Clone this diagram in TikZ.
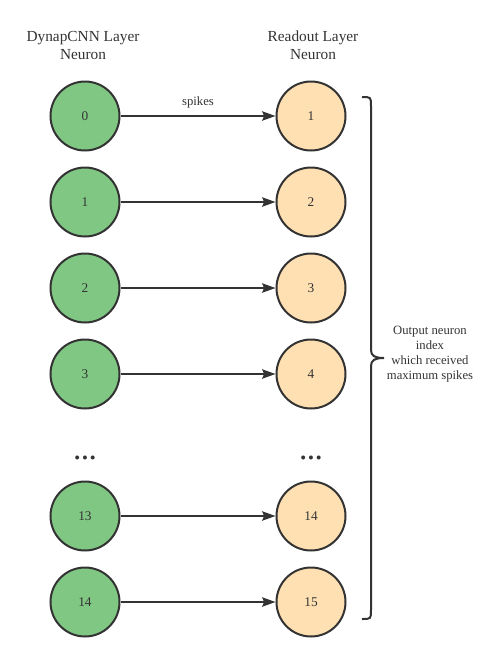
\documentclass[tikz,border=0pt]{standalone}
\usepackage{fontspec}
\setmainfont{Liberation Serif}
\usepackage{xcolor}
\usepackage{tikz}
\usetikzlibrary{arrows,arrows.meta}

\definecolor{cnngreen}{RGB}{129,199,132}
\definecolor{readorange}{RGB}{255,224,178}
\definecolor{darkline}{RGB}{51,51,51}

\tikzset{
    cnn/.style={circle, draw=darkline, line width=1.5pt, fill=cnngreen,
        minimum size=51.75pt, inner sep=0pt, font=\fontsize{10}{12}\selectfont, text=darkline},
    readout/.style={circle, draw=darkline, line width=1.5pt, fill=readorange,
        minimum size=51.75pt, inner sep=0pt, font=\fontsize{10}{12}\selectfont, text=darkline},
    spike/.style={-{Stealth[length=10pt, width=7pt, inset=1.5pt]}, line width=1.5pt, draw=darkline},
    heading/.style={align=center, font=\fontsize{11.5}{13.5}\selectfont, text=darkline},
    skipdots/.style={text=darkline, font=\fontsize{12.5}{12.5}\selectfont},
}

\begin{document}
\begin{tikzpicture}[x=0.75pt, y=-0.75pt]
        \useasboundingbox (0,0) rectangle (503,662);

        % Column headings
        \node[heading] (cnnhead) at (83,45) {DynapCNN Layer\\Neuron};
        \node[heading] (readhead) at (313,45) {Readout Layer\\Neuron};

        % DynapCNN layer neurons
        \node[cnn] (c0) at (85,116) {0};
        \node[cnn] (c1) at (85,202) {1};
        \node[cnn] (c2) at (85,288) {2};
        \node[cnn] (c3) at (85,374) {3};
        \node[cnn] (c13) at (85,516) {13};
        \node[cnn] (c14) at (85,602) {14};

        % Readout layer neurons
        \node[readout] (r1) at (311,116) {1};
        \node[readout] (r2) at (311,202) {2};
        \node[readout] (r3) at (311,288) {3};
        \node[readout] (r4) at (311,374) {4};
        \node[readout] (r14) at (311,516) {14};
        \node[readout] (r15) at (311,602) {15};

        % dots for the skipped neurons
        \node[skipdots] (cdots) at (85,460) {•\hspace{1.4pt}•\hspace{1.4pt}•};
        \node[skipdots] (rdots) at (311,460) {•\hspace{1.4pt}•\hspace{1.4pt}•};

        % spikes from one layer to the other
        \draw[spike] (c0) -- (r1) node[midway, above=2pt, font=\fontsize{9.5}{11}\selectfont, text=darkline] (spk) {spikes};
        \draw[spike] (c1) -- (r2);
        \draw[spike] (c2) -- (r3);
        \draw[spike] (c3) -- (r4);
        \draw[spike] (c13) -- (r14);
        \draw[spike] (c14) -- (r15);

        % brace round the readout layer
        \draw[darkline, line width=1.5pt]
            (362,97) .. controls (371,97) .. (371,106) -- (371,350)
            .. controls (371,356) and (375,358) .. (384,358)
            .. controls (375,358) and (371,360) .. (371,366) -- (371,610)
            .. controls (371,619) .. (362,619);
        \node[align=center, font=\fontsize{9.5}{11.3}\selectfont, text=darkline] (outtext) at (430,354)
            {Output neuron\\index\\which received\\maximum spikes};

    \end{tikzpicture}
\end{document}
